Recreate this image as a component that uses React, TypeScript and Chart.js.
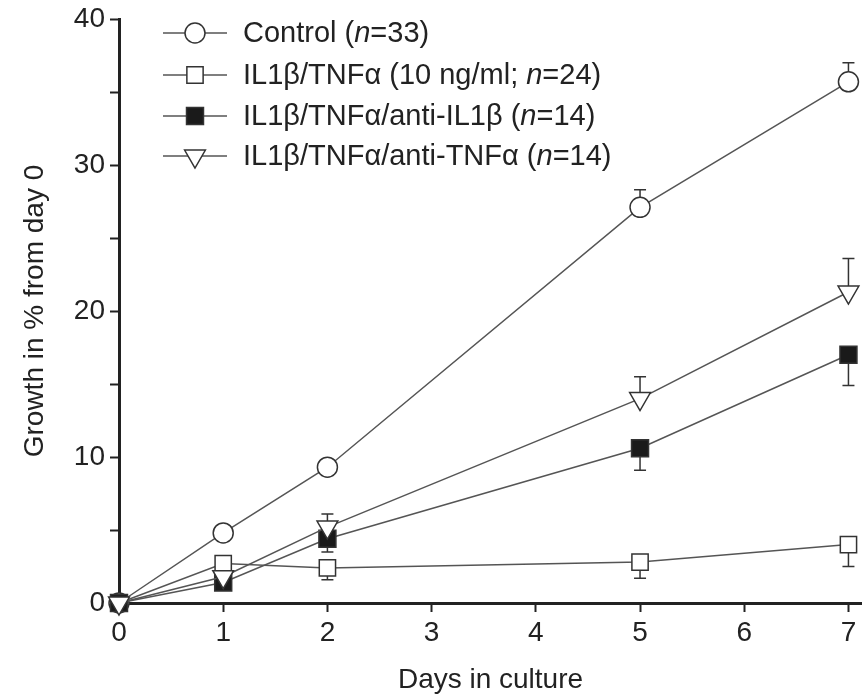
import React, { useEffect, useRef } from 'react';
import { Chart, registerables } from 'chart.js';

Chart.register(...registerables);

// ---- data ----
const days = [0, 1, 2, 5, 7];
const xTickValues = [0, 1, 2, 3, 4, 5, 6, 7];
const yTickValues = [0, 5, 10, 15, 20, 25, 30, 35, 40];

const seriesLabels = [
  'Control (n=33)',
  'IL1β/TNFα (10 ng/ml; n=24)',
  'IL1β/TNFα/anti-IL1β (n=14)',
  'IL1β/TNFα/anti-TNFα (n=14)',
];

const controlValues = [0, 4.8, 9.3, 27.1, 35.7];
const cytokineValues = [0, 2.7, 2.4, 2.8, 4.0];
const antiIL1bValues = [0, 1.4, 4.4, 10.6, 17.0];
const antiTNFValues = [0, 1.8, 5.2, 14.0, 21.3];

// error bar end values (null = no visible bar)
const controlErrEnds = [null, null, null, 28.3, 37.0];
const cytokineErrEnds = [null, null, 1.6, 1.7, 2.5];
const antiIL1bErrEnds = [null, null, 3.5, 9.1, 14.9];
const antiTNFErrEnds = [null, null, 6.1, 15.5, 23.6];

const xTitle = 'Days in culture';
const yTitle = 'Growth in % from day 0';

const FONT = '"Liberation Sans", Arial, Helvetica, sans-serif';
const AXIS_COLOR = '#222';
const LINE_COLOR = '#555';
const MARK_COLOR = '#333';

type Marker = { style: string; radius: number; fill: string; rotation: number; order: number };
const markers: Marker[] = [
  { style: 'circle', radius: 10, fill: '#ffffff', rotation: 0, order: 3 },
  { style: 'rect', radius: 11.5, fill: '#ffffff', rotation: 0, order: 2 },
  { style: 'rect', radius: 12, fill: '#1a1a1a', rotation: 0, order: 1 },
  { style: 'triangle', radius: 12, fill: '#ffffff', rotation: 180, order: 0 },
];

const seriesValues = [controlValues, cytokineValues, antiIL1bValues, antiTNFValues];
const seriesErrEnds = [controlErrEnds, cytokineErrEnds, antiIL1bErrEnds, antiTNFErrEnds];

function drawMarker(ctx: CanvasRenderingContext2D, m: Marker, x: number, y: number) {
  ctx.save();
  ctx.beginPath();
  if (m.style === 'circle') {
    ctx.arc(x, y, m.radius, 0, Math.PI * 2);
  } else if (m.style === 'rect') {
    const s = m.radius * Math.SQRT1_2;
    ctx.rect(x - s, y - s, 2 * s, 2 * s);
  } else {
    const r = m.radius;
    const s = Math.sin(Math.PI / 3) * r;
    ctx.moveTo(x, y + r);
    ctx.lineTo(x - s, y - r / 2);
    ctx.lineTo(x + s, y - r / 2);
    ctx.closePath();
  }
  ctx.fillStyle = m.fill;
  ctx.fill();
  ctx.lineWidth = 1.5;
  ctx.strokeStyle = MARK_COLOR;
  ctx.stroke();
  ctx.restore();
}

const errorBarPlugin = {
  id: 'errorBars',
  beforeDatasetsDraw(chart: any) {
    const ctx = chart.ctx as CanvasRenderingContext2D;
    const yScale = chart.scales.y;
    ctx.save();
    ctx.strokeStyle = MARK_COLOR;
    ctx.lineWidth = 1.5;
    seriesErrEnds.forEach((ends, di) => {
      const meta = chart.getDatasetMeta(di);
      ends.forEach((end, j) => {
        if (end == null) return;
        const pt = meta.data[j];
        const y1 = yScale.getPixelForValue(end);
        ctx.beginPath();
        ctx.moveTo(pt.x, pt.y);
        ctx.lineTo(pt.x, y1);
        ctx.moveTo(pt.x - 6, y1);
        ctx.lineTo(pt.x + 6, y1);
        ctx.stroke();
      });
    });
    ctx.restore();
  },
};

function drawRichLabel(ctx: CanvasRenderingContext2D, text: string, x: number, y: number, size: number) {
  // italicize the standalone "n" before "="
  const parts: { t: string; it: boolean }[] = [];
  const re = /(^|[^A-Za-z])n(?==)/g;
  let last = 0;
  let m: RegExpExecArray | null;
  while ((m = re.exec(text))) {
    const idx = m.index + m[1].length;
    parts.push({ t: text.slice(last, idx), it: false });
    parts.push({ t: 'n', it: true });
    last = idx + 1;
  }
  parts.push({ t: text.slice(last), it: false });
  let cx = x;
  for (const p of parts) {
    ctx.font = `${p.it ? 'italic ' : ''}${size}px ${FONT}`;
    ctx.fillText(p.t, cx, y);
    cx += ctx.measureText(p.t).width;
  }
}

const legendPlugin = {
  id: 'customLegend',
  afterDraw(chart: any) {
    const ctx = chart.ctx as CanvasRenderingContext2D;
    const x0 = 163;
    const x1 = 227;
    const mx = 195;
    const tx = 243;
    const rowY = [33, 75, 116, 156];
    ctx.save();
    seriesLabels.forEach((label, i) => {
      const y = rowY[i];
      ctx.strokeStyle = LINE_COLOR;
      ctx.lineWidth = 1.5;
      ctx.beginPath();
      ctx.moveTo(x0, y);
      ctx.lineTo(x1, y);
      ctx.stroke();
      drawMarker(ctx, markers[i], mx, y);
      ctx.fillStyle = AXIS_COLOR;
      ctx.textBaseline = 'middle';
      ctx.textAlign = 'left';
      drawRichLabel(ctx, label, tx, y + 1, 29);
    });
    ctx.restore();
  },
};

export default function App() {
  const ref = useRef<HTMLCanvasElement | null>(null);

  useEffect(() => {
    if (!ref.current) return;
    const datasets = seriesLabels.map((label, i) => ({
      label,
      data: days.map((d, j) => ({ x: d, y: seriesValues[i][j] })),
      order: markers[i].order,
      borderColor: LINE_COLOR,
      borderWidth: 1.5,
      pointStyle: markers[i].style,
      pointRadius: markers[i].radius,
      pointHoverRadius: markers[i].radius,
      pointRotation: markers[i].rotation,
      pointBackgroundColor: markers[i].fill,
      pointBorderColor: MARK_COLOR,
      pointBorderWidth: 1.5,
      fill: false,
      tension: 0,
      clip: false as any,
    }));

    const tickFont = { family: FONT, size: 28 };

    const chart = new Chart(ref.current, {
      type: 'line',
      data: { datasets },
      plugins: [errorBarPlugin, legendPlugin],
      options: {
        responsive: false,
        animation: false,
        layout: { autoPadding: false, padding: { top: 19, right: 0, left: 0, bottom: 0 } },
        plugins: {
          legend: { display: false },
          tooltip: { enabled: false },
          title: { display: false },
        },
        scales: {
          x: {
            type: 'linear',
            min: 0,
            max: 7.13,
            afterBuildTicks: (s: any) => {
              s.ticks = xTickValues.map((v) => ({ value: v }));
            },
            afterFit: (s: any) => {
              s.height = 95;
              s.paddingLeft = 0;
              s.paddingRight = 0;
            },
            grid: {
              drawOnChartArea: false,
              drawTicks: true,
              tickLength: 9,
              tickWidth: 2,
              tickColor: AXIS_COLOR,
            },
            border: { display: true, color: AXIS_COLOR, width: 3 },
            ticks: {
              font: tickFont,
              color: AXIS_COLOR,
              padding: 4,
              maxRotation: 0,
              autoSkip: false,
            },
            title: {
              display: true,
              text: xTitle,
              font: tickFont,
              color: AXIS_COLOR,
              padding: { top: 0, bottom: 1 },
            },
          },
          y: {
            type: 'linear',
            min: 0,
            max: 40,
            afterBuildTicks: (s: any) => {
              s.ticks = yTickValues.map((v) => ({ value: v }));
            },
            afterFit: (s: any) => {
              s.width = 119;
              s.paddingTop = 0;
              s.paddingBottom = 0;
            },
            grid: {
              drawOnChartArea: false,
              drawTicks: true,
              tickLength: 9,
              tickWidth: 2,
              tickColor: AXIS_COLOR,
            },
            border: { display: true, color: AXIS_COLOR, width: 3 },
            ticks: {
              font: tickFont,
              color: AXIS_COLOR,
              padding: 5,
              autoSkip: false,
              callback: (v: any) => (Number(v) % 10 === 0 ? String(v) : ''),
            },
            title: {
              display: true,
              text: yTitle,
              font: tickFont,
              color: AXIS_COLOR,
              padding: { top: 18, bottom: 0 },
            },
          },
        },
      },
    });
    return () => chart.destroy();
  }, []);

  return (
    <div style={{ position: 'absolute', left: 0, top: 0, width: 862, height: 698, background: '#fff' }}>
      <canvas ref={ref} width={862} height={698} style={{ display: 'block', width: 862, height: 698 }} />
    </div>
  );
}
